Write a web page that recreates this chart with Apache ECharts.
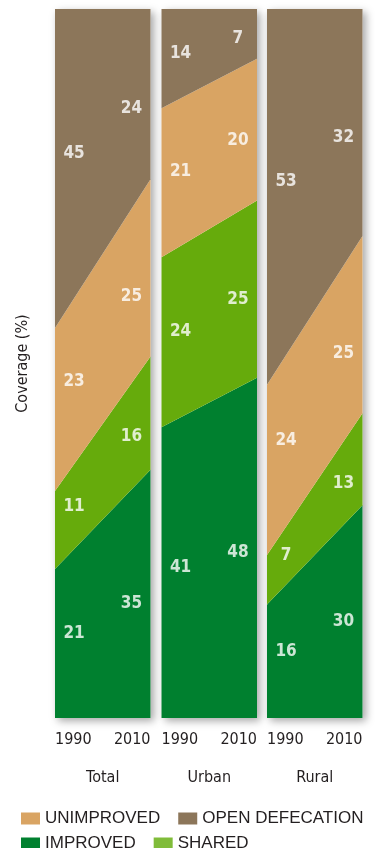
<!DOCTYPE html>
<html>
<head>
<meta charset="utf-8">
<title>Coverage</title>
<script src="https://cdn.jsdelivr.net/npm/echarts@6/dist/echarts.min.js"></script>
<style>
  html, body { margin: 0; padding: 0; background: #fff; }
  #chart { width: 375px; height: 848px; }
</style>
</head>
<body>
<div id="chart"></div>
<script>
// data
const years = ['1990', '2010']
const panels = ['Total', 'Urban', 'Rural']
const seriesNames = ['IMPROVED', 'SHARED', 'UNIMPROVED', 'OPEN DEFECATION']

// each list: [1990, 2010] per panel
const improved = [[21, 35], [41, 48], [16, 30]]
const shared = [[11, 16], [24, 25], [7, 13]]
const unimproved = [[23, 25], [21, 20], [24, 25]]
const openDefecation = [[45, 24], [14, 7], [53, 32]]

const colors = {
  'IMPROVED': '#00802f',
  'SHARED': '#66ab0c',
  'UNIMPROVED': '#d9a463',
  'OPEN DEFECATION': '#8c765a'
}
const legendColors = {
  'IMPROVED': '#00802f',
  'SHARED': '#80bc3a',
  'UNIMPROVED': '#d9a463',
  'OPEN DEFECATION': '#8c765a'
}

const textColor = '#231f20'
const narrow = "'Liberation Sans Narrow', 'DejaVu Sans Condensed', Arial, sans-serif"
const regular = "'Liberation Sans', Arial, sans-serif"

const chart = echarts.init(document.getElementById('chart'))

const gridLefts = [55, 161.5, 267]
const gridWidth = 95.5
const labelPos = [0.2, 0.8] // where the numbers sit across a panel

const grids = gridLefts.map(left => ({
  left, width: gridWidth, top: 9, bottom: 130,
  show: true, borderWidth: 0, backgroundColor: '#fff',
  shadowBlur: 8, shadowColor: 'rgba(0,0,0,0.35)', shadowOffsetX: 3, shadowOffsetY: 3
}))

const xAxes = []
const yAxes = []
const series = []
const allValues = [improved, shared, unimproved, openDefecation]

panels.forEach((panel, p) => {
  // category axis for the areas + year labels
  xAxes.push({
    type: 'category', gridIndex: p, data: years, boundaryGap: false,
    axisLine: { show: false }, axisTick: { show: false },
    axisLabel: {
      margin: 14, color: textColor, fontFamily: narrow, fontSize: 16,
      alignMinLabel: 'left', alignMaxLabel: 'right'
    },
    name: panel, nameLocation: 'middle', nameGap: 52,
    nameTextStyle: { color: textColor, fontFamily: narrow, fontSize: 16 }
  })
  // hidden value axis for the number labels
  xAxes.push({ type: 'value', gridIndex: p, min: 0, max: 1, show: false })
  yAxes.push({
    type: 'value', gridIndex: p, min: 0, max: 100,
    axisLine: { show: false }, axisTick: { show: false },
    axisLabel: { show: false }, splitLine: { show: false },
    name: p === 0 ? 'Coverage (%)' : '', nameLocation: 'middle', nameGap: 24,
    nameTextStyle: { color: textColor, fontFamily: narrow, fontSize: 16 }
  })

  // stacked areas
  seriesNames.forEach((name, s) => {
    series.push({
      name, type: 'line', stack: 'panel' + p,
      xAxisIndex: p * 2, yAxisIndex: p,
      data: allValues[s][p],
      symbol: 'none', lineStyle: { width: 0 },
      areaStyle: { color: colors[name], opacity: 1 },
      itemStyle: { color: legendColors[name] },
      silent: true
    })
  })

  // number labels: middle of each band at the label position
  const pts = []
  labelPos.forEach((t, yi) => {
    let lo0 = 0, lo1 = 0
    seriesNames.forEach((name, s) => {
      const v0 = allValues[s][p][0], v1 = allValues[s][p][1]
      const hi0 = lo0 + v0, hi1 = lo1 + v1
      const lo = lo0 + (lo1 - lo0) * t
      const hi = hi0 + (hi1 - hi0) * t
      pts.push({ value: [t, (lo + hi) / 2, allValues[s][p][yi]] })
      lo0 = hi0; lo1 = hi1
    })
  })
  series.push({
    type: 'scatter', xAxisIndex: p * 2 + 1, yAxisIndex: p,
    symbolSize: 1, itemStyle: { color: 'rgba(0,0,0,0)' },
    silent: true, data: pts, z: 10,
    label: {
      show: true, position: 'inside', color: '#ffffff',
      textBorderWidth: 0, textBorderColor: 'transparent', textShadowBlur: 0,
      formatter: d => d.value[2],
      fontFamily: narrow, fontWeight: 'bold', fontSize: 17
    }
  })
})

const legendBase = {
  left: 16, width: 370, orient: 'horizontal', itemWidth: 19, itemHeight: 12, itemGap: 18,
  icon: 'rect', selectedMode: false,
  textStyle: { color: textColor, fontFamily: regular, fontSize: 17 }
}

chart.setOption({
  animation: false,
  grid: grids,
  xAxis: xAxes,
  yAxis: yAxes,
  legend: [
    { ...legendBase, top: 805, data: ['UNIMPROVED', 'OPEN DEFECATION'] },
    { ...legendBase, top: 830, data: ['IMPROVED', 'SHARED'] }
  ],
  series
})

window.addEventListener('resize', () => chart.resize())
</script>
</body>
</html>
